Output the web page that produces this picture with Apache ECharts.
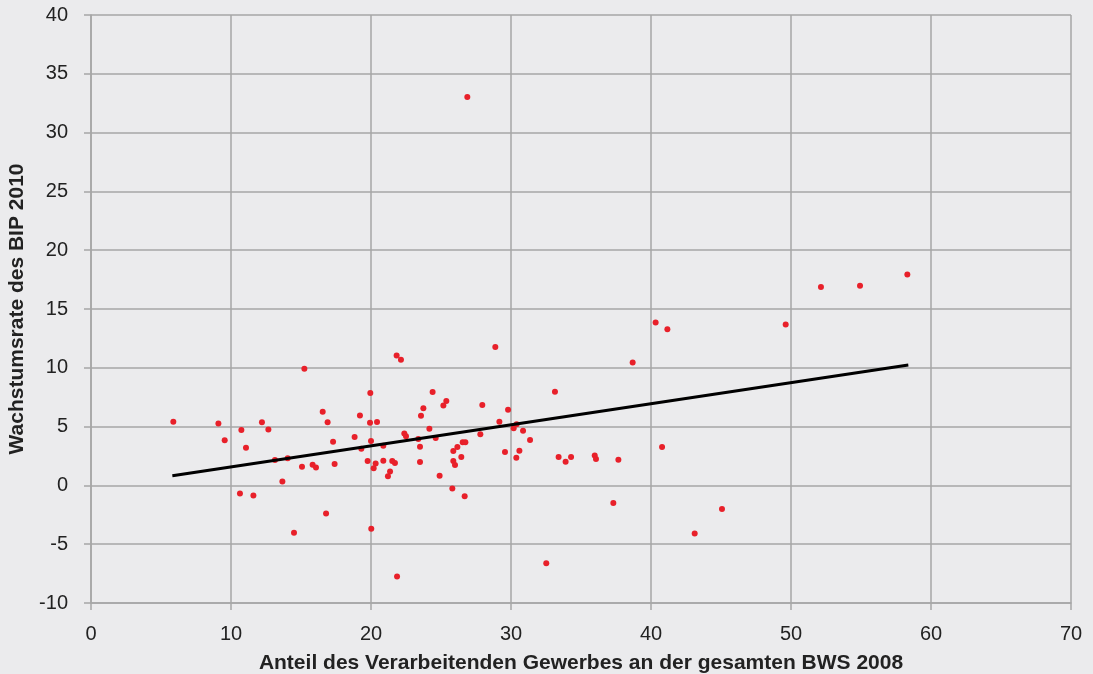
<!DOCTYPE html>
<html>
<head>
<meta charset="utf-8">
<script src="https://cdn.jsdelivr.net/npm/echarts@6/dist/echarts.min.js"></script>
<style>
html,body{margin:0;padding:0;background:#ebebed;}
#c{width:1093px;height:674px;}
</style>
</head>
<body>
<div id="c"></div>
<script>
const xValues = [5.88,9.1,9.55,10.74,11.07,10.64,11.6,12.21,12.67,13.14,14.05,13.67,14.5,15.24,15.07,15.83,16.07,16.55,16.9,16.79,17.29,17.4,18.83,19.21,19.31,19.95,19.93,20.0,20.43,19.76,20.33,20.19,20.02,20.88,20.88,21.52,21.71,21.36,21.21,21.83,22.14,21.86,22.38,22.5,23.38,23.5,23.5,23.57,23.74,24.4,24.17,24.62,24.9,25.17,25.38,25.81,26.69,25.88,26.17,25.88,26.0,26.45,26.55,26.74,26.88,27.95,27.81,28.88,29.79,29.17,29.57,30.19,30.4,30.86,30.6,30.38,31.36,33.14,32.52,33.4,33.9,34.29,35.98,36.07,37.67,37.31,38.69,40.33,41.17,40.79,43.12,45.07,49.62,52.14,54.93,58.31];
const yValues = [5.42,5.27,3.83,4.71,3.2,-0.68,-0.85,5.36,4.76,2.16,2.3,0.34,-4.02,9.92,1.59,1.76,1.53,6.27,5.36,-2.38,3.72,1.82,4.12,5.95,3.12,7.86,5.33,3.77,5.39,2.07,1.87,1.45,-3.68,3.38,2.1,2.07,1.9,1.19,0.77,11.05,10.69,-7.74,4.42,4.17,3.94,3.29,1.99,5.93,6.55,7.94,4.82,4.03,0.83,6.8,7.18,-0.26,-0.93,2.92,3.26,2.07,1.73,2.41,3.66,3.66,33.03,6.83,4.34,11.77,6.44,5.42,2.84,4.85,5.19,4.65,2.95,2.36,3.86,7.97,-6.63,2.41,2.02,2.41,2.55,2.24,2.19,-1.5,10.46,13.86,13.27,3.26,-4.1,-2.01,13.69,16.87,16.98,17.94];
const trendX = [5.81, 58.38];
const trendY = [0.82, 10.24];
const xTitle = 'Anteil des Verarbeitenden Gewerbes an der gesamten BWS 2008';
const yTitle = 'Wachstumsrate des BIP 2010';

const points = xValues.map((x, i) => [x, yValues[i]]);
const trend = trendX.map((x, i) => [x, trendY[i]]);

const gridColor = '#a6a6a6';
const font = 'Liberation Sans, Arial, Helvetica, sans-serif';

const chart = echarts.init(document.getElementById('c'), null, {renderer: 'canvas'});
chart.setOption({
  backgroundColor: '#ebebed',
  animation: false,
  grid: {left: 91, right: 22, top: 15, bottom: 71, containLabel: false, outerBoundsMode: 'none'},
  xAxis: {
    type: 'value', min: 0, max: 70, interval: 10,
    name: xTitle, nameLocation: 'middle', nameGap: 50,
    nameTextStyle: {fontFamily: font, fontSize: 21, fontWeight: 'bold', color: '#222'},
    axisLine: {show: true, onZero: false, lineStyle: {color: gridColor, width: 1.5}},
    axisTick: {show: true, inside: false, length: 7, lineStyle: {color: gridColor, width: 1.5}},
    axisLabel: {fontFamily: font, fontSize: 20, color: '#222', margin: 21},
    splitLine: {show: true, lineStyle: {color: gridColor, width: 1.5}}
  },
  yAxis: {
    type: 'value', min: -10, max: 40, interval: 5,
    name: yTitle, nameLocation: 'middle', nameGap: 52, nameRotate: 90,
    nameTextStyle: {fontFamily: font, fontSize: 21, fontWeight: 'bold', color: '#222'},
    axisLine: {show: true, onZero: false, lineStyle: {color: gridColor, width: 1.5}},
    axisTick: {show: true, inside: false, length: 7, lineStyle: {color: gridColor, width: 1.5}},
    axisLabel: {fontFamily: font, fontSize: 20, color: '#222', margin: 23},
    splitLine: {show: true, lineStyle: {color: gridColor, width: 1.5}}
  },
  series: [
    {
      type: 'scatter', data: points, symbol: 'circle', symbolSize: 6,
      itemStyle: {color: '#e8202a', opacity: 1}, z: 2
    },
    {
      type: 'line', data: trend, showSymbol: false, symbol: 'none',
      lineStyle: {color: '#000', width: 3}, z: 3
    }
  ]
});
</script>
</body>
</html>
